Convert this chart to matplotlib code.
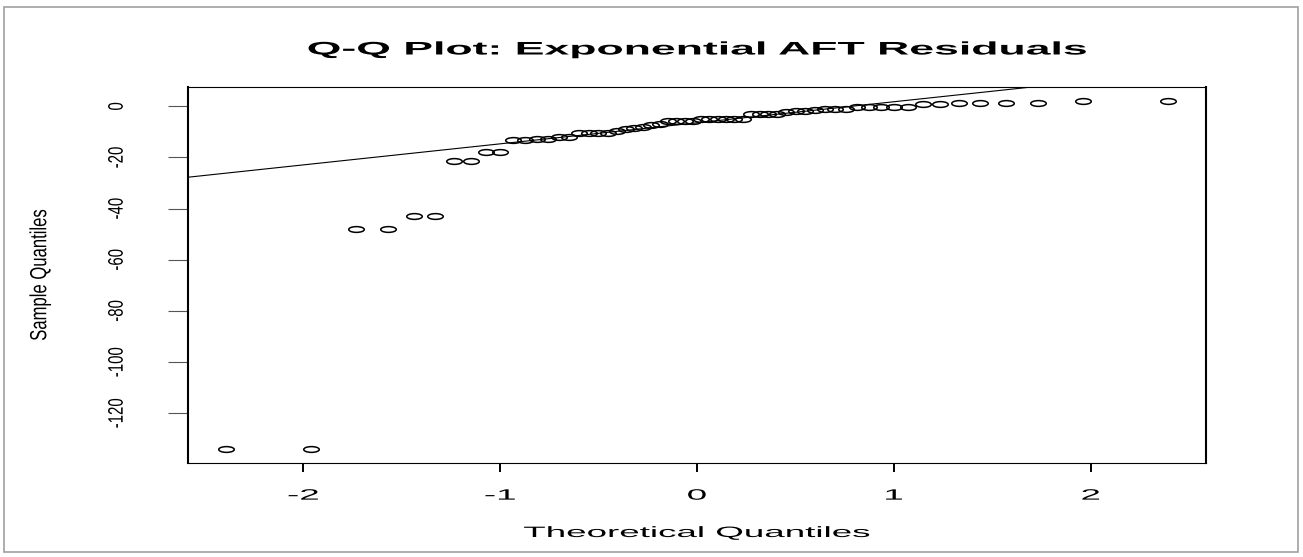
import statistics
import numpy as np
import matplotlib
matplotlib.use('Agg')
import matplotlib.pyplot as plt
import matplotlib.patheffects as patheffects
from matplotlib.path import Path
from matplotlib.transforms import Affine2D
from matplotlib.patches import Rectangle

# Sorted residuals (60 points)
residuals = [-134, -134, -48, -48, -43, -43, -21.5, -21.5, -18, -18,
             -13.3, -13.3, -12.6, -12.6, -12, -12, -10.4, -10.4, -10.4, -10.4,
             -9.5, -9, -8.5, -8, -7.5, -7, -5.8, -5.8, -5.6, -5.6,
             -5, -5, -4.9, -4.9, -4.8, -4.8, -2.9, -2.9, -2.9, -2.9,
             -2.2, -2, -1.8, -1.6, -0.9, -0.9, -0.9, -0.3, -0.3, -0.3,
             -0.3, -0.3, 1.0, 1.0, 1.2, 1.4, 1.4, 1.4, 2.1, 2.1]
x_ticks = [-2, -1, 0, 1, 2]
y_ticks = [0, -20, -40, -60, -80, -100, -120]

title = "Q-Q Plot: Exponential AFT Residuals"
xlabel = "Theoretical Quantiles"
ylabel = "Sample Quantiles"

plt.rcParams['font.family'] = ['Liberation Sans', 'DejaVu Sans']


# the source image was stretched sideways, so the glyphs are too
class StretchX(patheffects.AbstractPathEffect):
    def __init__(self, sx):
        super().__init__()
        self.sx = sx

    def draw_path(self, renderer, gc, tpath, affine, rgbFace=None):
        box = tpath.get_extents(affine)
        cx = (box.x0 + box.x1) / 2
        affine = affine + Affine2D().translate(-cx, 0).scale(self.sx, 1).translate(cx, 0)
        renderer.draw_path(gc, tpath, affine, rgbFace)


wide = [StretchX(2.45)]
tall = [StretchX(1.4)]

# theoretical quantiles like R's qqnorm (ppoints, a = 0.5)
n = len(residuals)
nd = statistics.NormalDist()
theo = [nd.inv_cdf((i + 0.5) / n) for i in range(n)]

# qqline through the quartiles
q1, q3 = np.percentile(residuals, [25, 75])
slope = (q3 - q1) / (nd.inv_cdf(0.75) - nd.inv_cdf(0.25))
intercept = q1 - slope * nd.inv_cdf(0.25)

fig = plt.figure(figsize=(13.03, 5.57), dpi=100)
ax = fig.add_axes([188 / 1303, 1 - 463 / 557, (1206 - 188) / 1303, (463 - 87) / 557])

ellipse = Path.unit_circle().transformed(Affine2D().scale(1, 0.37))
ax.plot(theo, residuals, linestyle='none', marker=ellipse, markersize=11.2,
        markerfacecolor='none', markeredgecolor='black', markeredgewidth=1.1)
ax.axline((0, intercept), slope=slope, color='black', lw=0.8)

span_x = max(theo) - min(theo)
span_y = max(residuals) - min(residuals)
ax.set_xlim(min(theo) - 0.04 * span_x, max(theo) + 0.04 * span_x)
ax.set_ylim(min(residuals) - 0.04 * span_y, max(residuals) + 0.04 * span_y)

ax.set_xticks(x_ticks)
ax.set_xticklabels([str(t) for t in x_ticks], va='center')
ax.set_yticks(y_ticks)
ax.set_yticklabels([str(t) for t in y_ticks], rotation=90, ha='center', va='center')
ax.tick_params(axis='x', length=6.5, width=1.4, pad=17, labelsize=10.8)
ax.tick_params(axis='y', length=14.4, width=0.8, pad=37, labelsize=10.8, color='#555555')
plt.setp(ax.get_xticklabels(), path_effects=wide)
plt.setp(ax.get_yticklabels(), path_effects=tall)

for side in ['left', 'right']:
    ax.spines[side].set_linewidth(1.5)
for side in ['top', 'bottom']:
    ax.spines[side].set_linewidth(0.8)

fig.text(697 / 1303, 1 - 50 / 557, title, ha='center', va='center', fontsize=13.1,
         fontweight='bold', path_effects=wide)
fig.text(697 / 1303, 1 - 533 / 557, xlabel, ha='center', va='center', fontsize=10.8,
         path_effects=wide)
fig.text(40 / 1303, 1 - 275 / 557, ylabel, ha='center', va='center', fontsize=12,
         rotation=90, path_effects=tall)

fig.patches.append(Rectangle((4 / 1303, 1 - 552 / 557), 1294 / 1303, 545 / 557,
                             transform=fig.transFigure, fill=False, ec='#a0a0a0', lw=1.2))

fig.savefig('out.png', dpi=100)
